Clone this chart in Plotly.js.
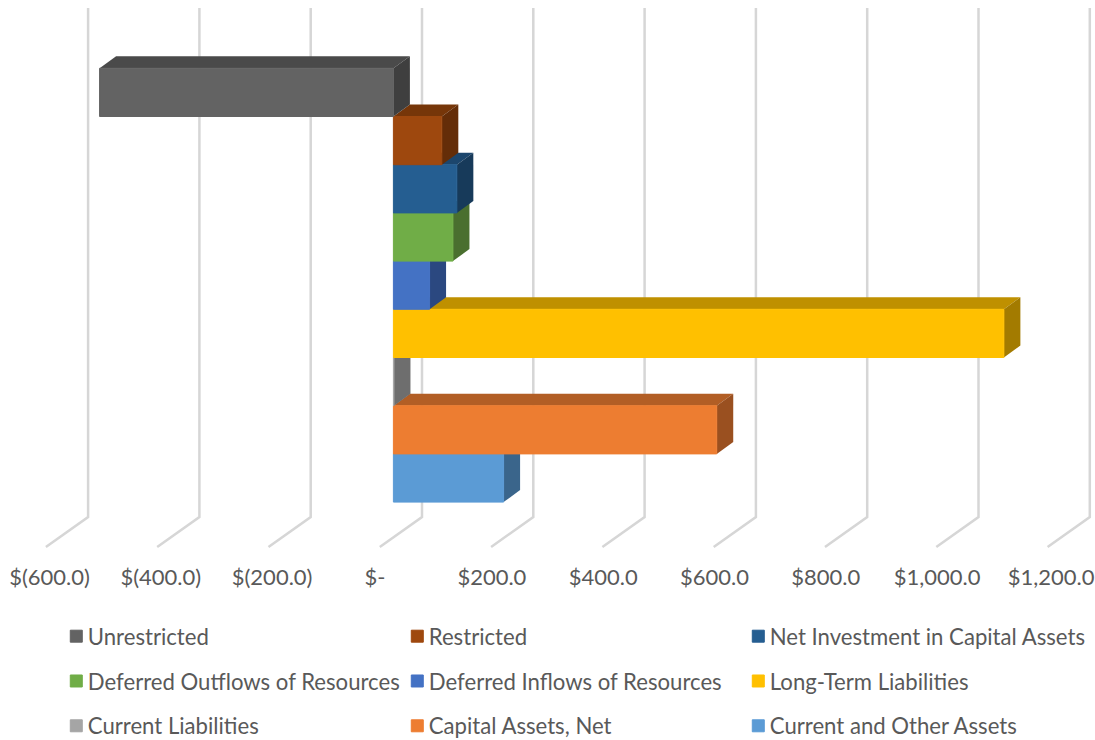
<!DOCTYPE html>
<html>
<head>
<meta charset="utf-8">
<script src="https://cdn.plot.ly/plotly-3.0.1.min.js"></script>
<style>html,body{margin:0;padding:0;background:#fff;overflow:hidden}#frame{width:1095px;height:740px;overflow:hidden}</style>
</head>
<body>
<div id="frame"><div id="chart" style="width:1095px;height:770px"></div></div>
<script>
// Data, listed in legend order (top row of the chart first)
const seriesNames = ["Unrestricted","Restricted","Net Investment in Capital Assets","Deferred Outflows of Resources","Deferred Inflows of Resources","Long-Term Liabilities","Current Liabilities","Capital Assets, Net","Current and Other Assets"];
const seriesValues = [-528,87,114,107,65,1097,1,581,198];
const frontColors = ["#636363","#9E480E","#255E91","#70AD47","#4472C4","#FFC000","#A5A5A5","#ED7D31","#5B9BD5"];
const topColors = ["#4A4A4A","#763609","#1C466D","#547E36","#335693","#BF9000","#7C7C7C","#B25E25","#446FA0"];
const sideColors = ["#3F3F3F","#642D08","#173A5A","#4A6F2F","#2B4880","#A37B00","#6E6E6E","#9A5020","#3A658B"];
const tickValues = [-600,-400,-200,0,200,400,600,800,1000,1200];
const tickLabels = ["$(600.0)","$(400.0)","$(200.0)","$-\u00a0\u00a0\u00a0","$200.0\u00a0","$400.0\u00a0","$600.0\u00a0","$800.0\u00a0","$1,000.0\u00a0","$1,200.0"];

// Scale and pseudo-3D projection of the reference
const W = 1095, H = 770, axisPx = 547;
const pxPerUnit = 0.5565, zeroPx = 393.4;
const rowPx = 48.2, row0Px = 478;
const depthX = 16.5 / pxPerUnit, depthY = 12 / rowPx;
const gridBackX = 28.6 / pxPerUnit, gridFrontX = -13.6 / pxPerUnit;
const gridBottom = (row0Px - 517) / rowPx, gridTop = (row0Px - 8) / rowPx, floorFront = (row0Px - 547) / rowPx;

const gridX = [], gridY = [];
tickValues.forEach(t => {
  gridX.push(t + gridFrontX, t + gridBackX, t + gridBackX, null);
  gridY.push(floorFront, gridBottom, gridTop, null);
});
const traces = [{
  type:"scatter", mode:"lines", x:gridX, y:gridY, showlegend:false, hoverinfo:"skip",
  line:{color:"#D6D6D6", width:2.5}, zorder:-1
}];
seriesNames.forEach((name,i) => {
  const row = seriesNames.length - 1 - i, v = seriesValues[i];
  const lo = Math.min(0,v), hi = Math.max(0,v);
  const t = row + 0.5, b = row - 0.5;
  traces.push({
    type:"scatter", mode:"lines", fill:"toself", fillcolor:topColors[i], line:{width:0},
    x:[lo, lo+depthX, hi+depthX, hi, lo], y:[t, t+depthY, t+depthY, t, t],
    showlegend:false, hoverinfo:"skip", zorder:row*2
  });
  traces.push({
    type:"scatter", mode:"lines", fill:"toself", fillcolor:sideColors[i], line:{width:0},
    x:[hi, hi+depthX, hi+depthX, hi, hi], y:[t, t+depthY, b+depthY, b, t],
    showlegend:false, hoverinfo:"skip", zorder:row*2
  });
});
seriesNames.forEach((name,i) => {
  const row = seriesNames.length - 1 - i;
  traces.push({
    type:"bar", orientation:"h", name:name, legendgroup:name, x:[seriesValues[i]], y:[row], width:1,
    marker:{color:frontColors[i], line:{width:1, color:frontColors[i]}}, zorder:row*2+1
  });
});

const layout = {
  width:W, height:H, autosize:false, paper_bgcolor:"#fff", plot_bgcolor:"#fff",
  margin:{l:0,r:0,t:0,b:0,pad:0},
  barmode:"overlay", showlegend:true,
  font:{family:"Lato, Carlito, sans-serif", size:22, color:"#595959"},
  xaxis:{range:[-zeroPx/pxPerUnit,(W-zeroPx)/pxPerUnit], anchor:"free", position:(H-axisPx)/H,
    tickmode:"array", tickvals:tickValues, ticktext:tickLabels, ticklabeloverflow:"allow",
    showgrid:false, zeroline:false, showline:false, ticks:"outside", ticklen:11, tickcolor:"rgba(0,0,0,0)",
    ticklabelshift:-10, fixedrange:true, tickfont:{size:22,color:"#595959"}},
  yaxis:{range:[(row0Px-H)/rowPx,row0Px/rowPx], visible:false, fixedrange:true},
  legend:{orientation:"h", traceorder:"grouped", tracegroupgap:13, entrywidth:296, entrywidthmode:"pixels",
    x:0.0514, xanchor:"left", y:(H-615.3)/H, yanchor:"top",
    font:{size:22.15,color:"#595959"}, bgcolor:"rgba(0,0,0,0)"}
};
Plotly.newPlot("chart", traces, layout, {displayModeBar:false, staticPlot:true}).then(gd => {
  // Tighten the swatch-to-label gap to the reference's and let the longest label run past the box
  gd.querySelectorAll(".legendtext").forEach(t => {
    t.setAttribute("x", parseFloat(t.getAttribute("x")) - 8.5);
  });
  const box = gd.querySelector(".legend .scrollbox");
  if (box) box.removeAttribute("clip-path");
});
</script>
</body>
</html>
